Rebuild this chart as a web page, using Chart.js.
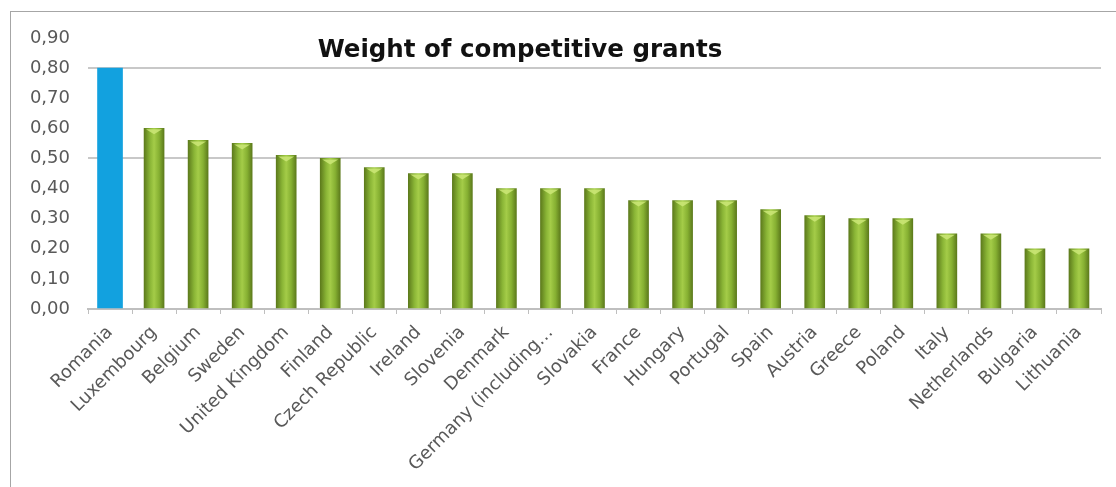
<!DOCTYPE html>
<html>
<head>
<meta charset="utf-8">
<script src="https://cdn.jsdelivr.net/npm/chart.js@4.4.0/dist/chart.umd.min.js"></script>
<style>
  body { margin: 0; background: #fff; }
  #wrap { position: relative; width: 1116px; height: 487px; overflow: hidden; }
  #frame { position: absolute; left: 10px; top: 11px; width: 1200px; height: 600px; border: 1px solid #a6a6a6; }
  #title { position: absolute; left: 0; width: 1040px; top: 34px; text-align: center;
           font: bold 24.5px "DejaVu Sans", sans-serif; color: #111; }
  canvas { position: absolute; left: 0; top: 0; }
</style>
</head>
<body>
<div id="wrap">
  <div id="frame"></div>
  <canvas id="grantsChart" width="1116" height="487"></canvas>
  <div id="title">Weight of competitive grants</div>
</div>
<script>
// Data
const categories = ['Romania', 'Luxembourg', 'Belgium', 'Sweden', 'United Kingdom', 'Finland',
    'Czech Republic', 'Ireland', 'Slovenia', 'Denmark', 'Germany (including…', 'Slovakia',
    'France', 'Hungary', 'Portugal', 'Spain', 'Austria', 'Greece', 'Poland', 'Italy',
    'Netherlands', 'Bulgaria', 'Lithuania'];
const weights = [0.80, 0.60, 0.56, 0.55, 0.51, 0.50, 0.47, 0.45, 0.45, 0.40, 0.40, 0.40,
    0.36, 0.36, 0.36, 0.33, 0.31, 0.30, 0.30, 0.25, 0.25, 0.20, 0.20];
const highlighted = 'Romania';
const yMax = 0.9;
const yStep = 0.1;
const gridValues = [0.5, 0.8];

const labelFont = { family: 'DejaVu Sans', size: 18 };

// split the series: the highlighted country is drawn blue and a bit wider
const highlightData = weights.map((v, i) => categories[i] === highlighted ? v : null);
const otherData = weights.map((v, i) => categories[i] === highlighted ? null : v);

// cylinder-like shading for the green bars
function greenShade(c) {
    const xs = c.chart.scales.x;
    if (!xs || xs.width === undefined) return '#8cb43c';
    const cx = xs.getPixelForValue(c.dataIndex);
    const g = c.chart.ctx.createLinearGradient(cx - 10, 0, cx + 10, 0);
    g.addColorStop(0, '#5d7b1c');
    g.addColorStop(0.3, '#8ab536');
    g.addColorStop(0.5, '#a4cc48');
    g.addColorStop(0.75, '#86b032');
    g.addColorStop(1, '#5d7b1c');
    return g;
}

// light cap on top of each green bar
const barCaps = {
    id: 'barCaps',
    afterDatasetsDraw(chart) {
        const c = chart.ctx;
        chart.getDatasetMeta(1).data.forEach((el, i) => {
            if (otherData[i] === null) return;
            c.save();
            c.fillStyle = 'rgba(205, 232, 120, 0.85)';
            c.beginPath();
            c.moveTo(el.x - 8, el.y + 1);
            c.lineTo(el.x + 8, el.y + 1);
            c.lineTo(el.x, el.y + 6);
            c.closePath();
            c.fill();
            c.restore();
        });
    }
};

const ctx = document.getElementById('grantsChart').getContext('2d');
const grantsChart = new Chart(ctx, {
    type: 'bar',
    data: {
        labels: categories,
        datasets: [{
            data: highlightData,
            backgroundColor: '#12a1df',
            borderWidth: 0,
            barThickness: 25
        }, {
            data: otherData,
            backgroundColor: greenShade,
            borderWidth: 0,
            barThickness: 20
        }]
    },
    options: {
        responsive: false,
        animation: false,
        grouped: false,
        layout: { padding: { top: 38, right: 15, left: 0, bottom: 0 } },
        plugins: {
            legend: { display: false },
            tooltip: { enabled: false }
        },
        scales: {
            x: {
                afterFit: scale => { scale.height = 178; },
                grid: { offset: true, drawOnChartArea: false, tickLength: 5, color: '#bfbfbf' },
                border: { display: true, color: '#bfbfbf', width: 2 },
                ticks: { color: '#595959', font: labelFont, minRotation: 45, maxRotation: 45, autoSkip: false, padding: 8 }
            },
            y: {
                min: 0,
                max: yMax,
                afterFit: scale => { scale.width = 88; },
                border: { display: false },
                grid: {
                    drawTicks: false,
                    lineWidth: 2,
                    color: c => gridValues.some(v => Math.abs(c.tick.value - v) < 1e-6) ? '#c8c8c8' : 'rgba(0,0,0,0)'
                },
                ticks: {
                    stepSize: yStep,
                    color: '#595959',
                    font: labelFont,
                    padding: 18,
                    callback: v => v.toFixed(2).replace('.', ',')
                }
            }
        }
    },
    plugins: [barCaps]
});
</script>
</body>
</html>
